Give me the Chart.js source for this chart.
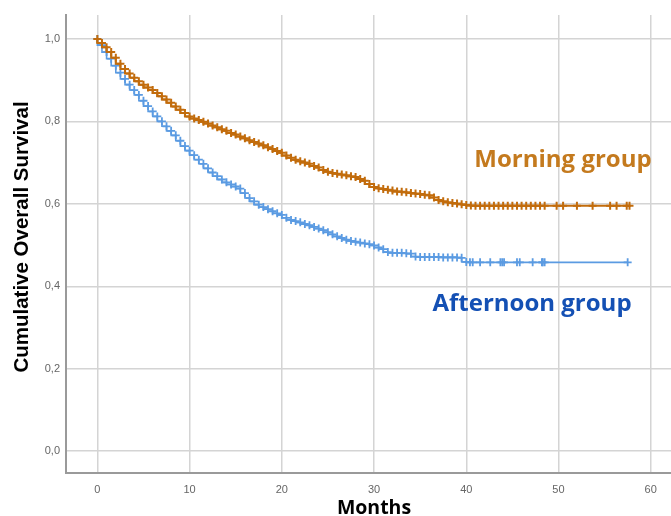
<!DOCTYPE html>
<html>
<head>
<meta charset="utf-8">
<script src="https://cdn.jsdelivr.net/npm/chart.js@4"></script>
<style>
html,body{margin:0;padding:0;background:#fff;}
#wrap{width:671px;height:516px;position:relative;}
</style>
</head>
<body>
<div id="wrap"><canvas id="c" width="671" height="516"></canvas></div>
<script>
// Morning group: months and cumulative survival
const morningMonths = [0,0.5,1,1.5,2,2.5,3,3.5,4,4.5,5,5.5,6,6.5,7,7.5,8,8.5,9,9.5,10,10.5,11,11.5,12,12.5,13,13.5,14,14.5,15,15.5,16,16.5,17,17.5,18,18.5,19,19.5,20,20.5,21,21.5,22,22.5,23,23.5,24,24.5,25,25.5,26,26.5,27,27.5,28,28.5,29,29.5,30,30.5,31,31.5,32,32.5,33,33.5,34,34.5,35,35.5,36,36.5,37,37.5,38,38.5,39,39.5,40,40.5,41,
  41.5,42,42.5,43,43.5,44,44.5,45,45.5,46,46.5,47,47.5,48,48.5,49.8,50.5,52,53.7,55.6,56.3,57.4,57.7];
const morningSurvival = [1.000,0.990,0.980,0.968,0.954,0.940,0.927,0.916,0.906,0.897,0.889,0.882,0.876,0.869,0.861,0.853,0.845,0.836,0.828,0.820,0.812,0.807,0.803,0.799,0.795,0.790,0.786,0.781,0.777,0.772,0.768,0.763,0.759,0.754,0.750,0.746,0.742,0.737,0.733,0.728,0.724,0.717,0.712,0.707,0.703,0.700,0.697,0.692,0.688,0.682,0.678,0.675,0.673,0.671,0.669,0.667,0.665,0.660,0.656,0.648,0.641,0.638,0.636,0.634,0.632,0.630,0.629,0.628,0.626,0.625,0.624,0.622,0.621,0.615,0.609,0.606,0.604,0.602,0.601,0.599,0.597,0.596,0.595,
  0.595,0.595,0.595,0.595,0.595,0.595,0.595,0.595,0.595,0.595,0.595,0.595,0.595,0.595,0.595,0.595,0.595,0.595,0.595,0.595,0.595,0.595,0.595];

// Afternoon group
const afternoonMonths = [0,0.5,1,1.5,2,2.5,3,3.5,4,4.5,5,5.5,6,6.5,7,7.5,8,8.5,9,9.5,10,10.5,11,11.5,12,12.5,13,13.5,14,14.5,15,15.5,16,16.5,17,17.5,18,18.5,19,19.5,20,20.5,21,21.5,22,22.5,23,23.5,24,24.5,25,25.5,26,26.5,27,27.5,28,28.5,29,29.5,30,30.5,31,31.5,32,32.5,33,33.5,34,34.5,35,35.5,36,36.5,37,37.5,38,38.5,39,39.5,40,
  40.4,40.7,41.5,42.6,43.7,43.9,44.1,45.5,45.8,47.2,48.2,48.3,48.5,57.5];
const afternoonSurvival = [1.000,0.985,0.968,0.952,0.935,0.918,0.903,0.889,0.876,0.864,0.850,0.837,0.824,0.812,0.800,0.788,0.777,0.766,0.753,0.740,0.729,0.718,0.707,0.697,0.686,0.676,0.667,0.659,0.652,0.647,0.642,0.637,0.626,0.614,0.606,0.598,0.592,0.587,0.582,0.577,0.573,0.566,0.561,0.558,0.555,0.551,0.548,0.544,0.540,0.536,0.531,0.526,0.521,0.517,0.513,0.510,0.508,0.506,0.504,0.502,0.499,0.494,0.490,0.483,0.481,0.481,0.481,0.480,0.479,0.472,0.471,0.471,0.471,0.471,0.471,0.470,0.470,0.470,0.470,0.469,0.459,
  0.458,0.458,0.458,0.458,0.458,0.458,0.458,0.458,0.458,0.458,0.458,0.458,0.458,0.458];

const xTickValues = [0,10,20,30,40,50,60];
const yTickValues = [0,0.2,0.4,0.6,0.8,1.0];
const xTitle = 'Months';
const yTitle = 'Cumulative Overall Survival';
const morningLabel = 'Morning group';
const afternoonLabel = 'Afternoon group';

const ORANGE = '#c26c0c';
const BLUE = '#5b9be2';

function pts(xs, ys){ return xs.map((x,i)=>({x:x, y:ys[i]})); }

const textPlugin = {
  id:'texts',
  afterDraw(chart){
    const ctx = chart.ctx;
    ctx.save();
    ctx.fillStyle = '#000';
    ctx.font = 'bold 20.5px "Liberation Sans", Arial, sans-serif';
    ctx.textAlign = 'center';
    ctx.textBaseline = 'middle';
    ctx.translate(22, 237);
    ctx.rotate(-Math.PI/2);
    ctx.fillText(yTitle, 0, 0);
    ctx.restore();
    ctx.save();
    ctx.fillStyle = '#000';
    ctx.font = 'bold 19.5px "Open Sans", sans-serif';
    ctx.textAlign = 'center';
    ctx.textBaseline = 'middle';
    ctx.fillText(xTitle, 374, 508);
    ctx.font = 'bold 24px "Open Sans", sans-serif';
    ctx.fillStyle = '#c47a1e';
    ctx.fillText(morningLabel, 563, 160);
    ctx.fillStyle = '#1450b4';
    ctx.fillText(afternoonLabel, 532, 304);
    ctx.restore();
  }
};

new Chart(document.getElementById('c'), {
  type:'line',
  data:{
    datasets:[
      {label:morningLabel, data:pts(morningMonths, morningSurvival), borderColor:ORANGE, backgroundColor:ORANGE,
       borderWidth:2, pointStyle:'cross', pointRadius:4, pointBorderWidth:2, pointBorderColor:ORANGE, stepped:'after', fill:false},
      {label:afternoonLabel, data:pts(afternoonMonths, afternoonSurvival), borderColor:BLUE, backgroundColor:BLUE,
       borderWidth:1.6, pointStyle:'cross', pointRadius:4, pointBorderWidth:1.8, pointBorderColor:BLUE, stepped:'after', fill:false}
    ]
  },
  options:{
    responsive:false, animation:false,
    layout:{autoPadding:false, padding:{top:15,right:0,left:0,bottom:0}},
    plugins:{legend:{display:false}, tooltip:{enabled:false}},
    scales:{
      x:{type:'linear', min:-3.4, max:62.2,
        afterBuildTicks(s){ s.ticks = xTickValues.map(v=>({value:v})); },
        afterFit(s){ s.height = 43; s.paddingRight = 0; s.paddingLeft = 0; },
        grid:{color:'#d4d4d4', lineWidth:1.5, drawTicks:false},
        border:{color:'#9a9a9a', width:2},
        ticks:{color:'#666', font:{size:11, family:'"Liberation Sans", Arial, sans-serif'}, padding:10, maxRotation:0,
          callback:(v)=>String(v)}
      },
      y:{type:'linear', min:-0.053, max:1.058,
        afterBuildTicks(s){ s.ticks = yTickValues.map(v=>({value:v})); },
        afterFit(s){ s.width = 66; s.paddingTop = 0; s.paddingBottom = 0; },
        grid:{color:'#d4d4d4', lineWidth:1.5, drawTicks:false},
        border:{color:'#9a9a9a', width:2},
        ticks:{color:'#666', font:{size:11, family:'"Liberation Sans", Arial, sans-serif'}, padding:6,
          callback:(v)=>v.toFixed(1).replace('.',',')}
      }
    }
  },
  plugins:[textPlugin]
});
</script>
</body>
</html>
